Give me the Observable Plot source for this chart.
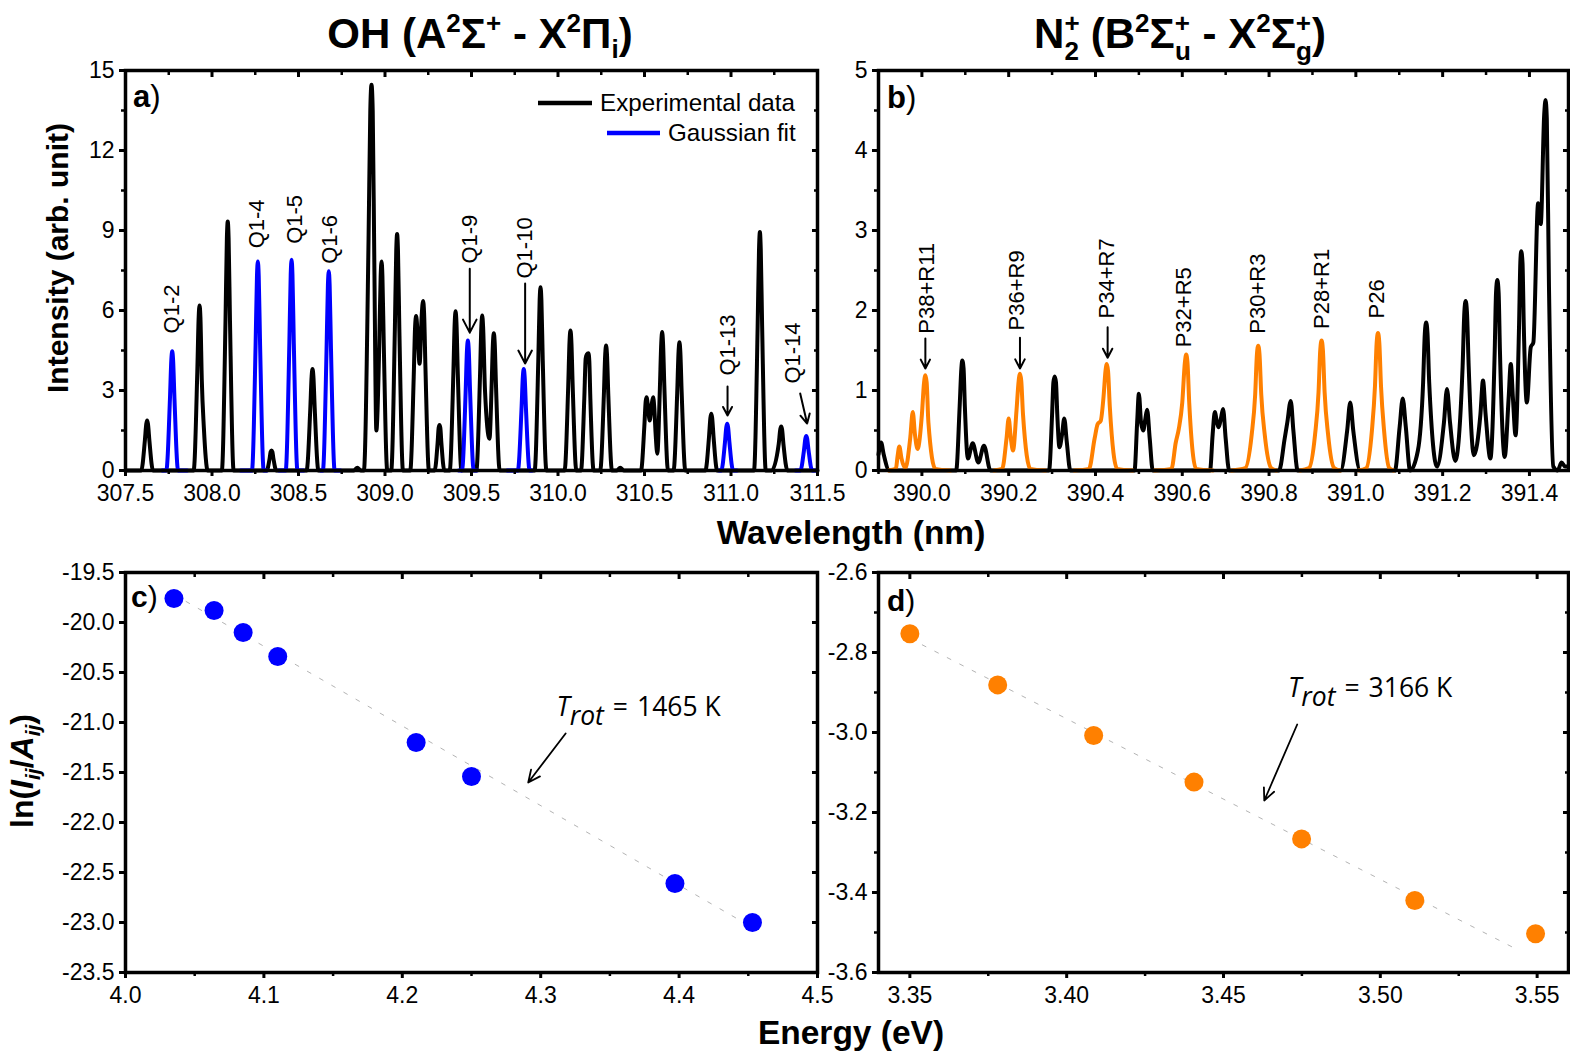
<!DOCTYPE html>
<html><head><meta charset="utf-8">
<script src="https://cdn.jsdelivr.net/npm/d3@7"></script>
<script src="https://cdn.jsdelivr.net/npm/@observablehq/plot@0.6"></script>
<style>
body{margin:0;background:#fff;}
#root{position:relative;width:1570px;height:1054px;overflow:hidden;background:#fff;}
.panel{position:absolute;}
.panel svg{overflow:visible;}
#overlay{position:absolute;left:0;top:0;pointer-events:none;}
</style></head><body><div id="root"></div>
<script>
// ---------- Panel a: OH spectrum (wavelength nm, intensity) ----------
const ohExp = [
[307.5,0],
[307.591,0],[307.612,1.13],[307.62,1.74],[307.625,1.875],[307.63,1.74],[307.638,1.13],[307.659,0],
[307.894,0],[307.915,3.7],[307.923,5.75],[307.928,6.19],[307.933,5.75],[307.941,3.4],[307.953,1.6],[307.975,0],
[308.057,0],[308.078,5.6],[308.086,8.7],[308.091,9.34],[308.096,8.7],[308.104,5.6],[308.125,0],
[308.316,0],[308.333,0.45],[308.339,0.7],[308.344,0.75],[308.349,0.7],[308.355,0.45],[308.372,0],
[308.547,0],[308.568,2.29],[308.576,3.54],[308.581,3.81],[308.586,3.54],[308.594,2.29],[308.615,0],
[308.82,0],[308.84,0.1],[308.86,0],
[308.878,0],[308.905,8.7],[308.915,13.5],[308.922,14.47],[308.929,13.5],[308.938,8.0],[308.95,1.5],[308.965,4.2],[308.975,7.3],[308.98,7.84],[308.985,7.3],[308.993,4.7],[309.013,0],
[309.036,0],[309.057,5.3],[309.065,8.25],[309.07,8.87],[309.075,8.25],[309.083,5.3],[309.104,0],
[309.146,0],[309.166,3.5],[309.174,5.4],[309.18,5.79],[309.188,5.2],[309.2,4.0],[309.212,5.8],[309.22,6.36],[309.226,5.9],[309.234,3.8],[309.254,0],
[309.287,0],[309.304,1.03],[309.31,1.59],[309.315,1.71],[309.32,1.59],[309.326,1.03],[309.343,0],
[309.374,0],[309.395,3.6],[309.403,5.55],[309.408,5.97],[309.413,5.55],[309.421,3.6],[309.442,0],
[309.528,0],[309.549,3.5],[309.557,5.4],[309.562,5.81],[309.567,5.4],[309.578,3.0],[309.604,1.19],[309.616,3.1],[309.624,4.8],[309.629,5.15],[309.634,4.8],[309.642,3.1],[309.663,0],
[309.865,0],[309.886,4.1],[309.894,6.4],[309.899,6.875],[309.904,6.4],[309.912,4.1],[309.933,0],
[310.038,0],[310.059,3.15],[310.067,4.88],[310.072,5.25],[310.077,4.88],[310.085,3.15],[310.106,0],
[310.133,0],[310.152,2.7],[310.16,4.2],[310.166,4.35],[310.176,4.4],[310.181,4.1],[310.187,2.7],[310.206,0],
[310.244,0],[310.265,2.8],[310.273,4.36],[310.278,4.69],[310.283,4.36],[310.291,2.8],[310.312,0],
[310.34,0],[310.36,0.1],[310.38,0],
[310.48,0],[310.499,1.65],[310.507,2.6],[310.512,2.75],[310.52,2.4],[310.53,1.875],[310.542,2.5],[310.55,2.75],[310.556,2.4],[310.565,1.3],[310.574,0.63],[310.589,3.1],[310.597,4.8],[310.602,5.19],[310.607,4.8],[310.615,3.1],[310.636,0],
[310.668,0],[310.689,2.9],[310.697,4.47],[310.702,4.81],[310.707,4.47],[310.715,2.9],[310.736,0],
[310.852,0],[310.873,1.27],[310.881,1.98],[310.886,2.125],[310.891,1.98],[310.899,1.27],[310.92,0],
[311.133,0],[311.154,5.4],[311.162,8.3],[311.167,8.94],[311.172,8.3],[311.18,5.4],[311.201,0],
[311.235,0],[311.276,1.0],[311.285,1.55],[311.29,1.65],[311.295,1.55],[311.303,1.0],[311.326,0],
[311.5,0]
];
// Gaussian fits: [fit, wavelength, intensity]
const ohFit = [
[1,307.712,0],[1,307.736,0],[1,307.757,2.7],[1,307.765,4.16],[1,307.77,4.47],[1,307.775,4.16],[1,307.783,2.7],[1,307.804,0],[1,307.857,0],
[2,308.165,0],[2,308.231,0],[2,308.252,4.7],[2,308.26,7.3],[2,308.265,7.84],[2,308.27,7.3],[2,308.278,4.7],[2,308.299,0],[2,308.319,0],
[3,308.386,0],[3,308.426,0],[3,308.447,4.74],[3,308.455,7.35],[3,308.46,7.9],[3,308.465,7.35],[3,308.473,4.74],[3,308.494,0],[3,308.531,0],
[4,308.627,0],[4,308.641,0],[4,308.662,4.48],[4,308.67,6.95],[4,308.675,7.47],[4,308.68,6.95],[4,308.688,4.48],[4,308.709,0],[4,308.743,0],
[5,309.425,0],[5,309.445,0],[5,309.466,2.92],[5,309.474,4.53],[5,309.479,4.875],[5,309.484,4.53],[5,309.492,2.92],[5,309.513,0],[5,309.533,0],
[6,309.706,0],[6,309.768,0],[6,309.789,2.29],[6,309.797,3.54],[6,309.802,3.81],[6,309.807,3.54],[6,309.815,2.29],[6,309.836,0],[6,309.851,0],
[7,310.93,0],[7,310.944,0],[7,310.965,1.05],[7,310.973,1.63],[7,310.978,1.75],[7,310.983,1.63],[7,310.991,1.05],[7,311.012,0],[7,311.035,0],
[8,311.373,0],[8,311.401,0],[8,311.422,0.77],[8,311.43,1.2],[8,311.435,1.29],[8,311.44,1.2],[8,311.448,0.77],[8,311.469,0],[8,311.498,0]
];
const ohLabels = [["Q1-2",307.77,5.14],["Q1-4",308.26,8.33],["Q1-5",308.48,8.5],["Q1-6",308.68,7.75],["Q1-9",309.49,7.76],["Q1-10",309.81,7.2],["Q1-13",310.98,3.56],["Q1-14",311.36,3.26]];
const ohArrows = [[309.49,7.57,309.49,5.17],[309.81,7.01,309.81,4.01],[310.98,3.15,310.98,2.06],[311.40,2.89,311.44,1.76]];

// ---------- Panel b: N2+ spectrum ----------
const n2Exp = [
[389.9,0.2],[389.906,0.35],[389.912,0.2],[389.925,0],
[390.079,0],[390.087,0.8],[390.091,1.28],[390.093,1.375],[390.096,1.28],[390.099,0.8],[390.106,0.15],[390.117,0.34],[390.13,0.1],[390.143,0.31],[390.158,0],
[390.293,0],[390.3,0.7],[390.303,1.1],[390.306,1.175],[390.309,1.1],[390.312,0.7],[390.317,0.29],[390.323,0.45],[390.328,0.65],[390.334,0.35],[390.342,0],
[390.49,0],[390.496,0.6],[390.5,0.96],[390.505,0.6],[390.51,0.5],[390.515,0.65],[390.519,0.76],[390.525,0.4],[390.532,0],
[390.664,0],[390.67,0.45],[390.675,0.73],[390.68,0.6],[390.684,0.54],[390.689,0.65],[390.694,0.77],[390.7,0.4],[390.708,0],
[390.823,0],[390.836,0.4],[390.842,0.6],[390.85,0.87],[390.856,0.5],[390.866,0],
[390.965,0],[390.98,0.5],[390.987,0.85],[390.994,0.5],[391.01,0],
[391.09,0],[391.101,0.55],[391.108,0.9],[391.115,0.55],[391.125,0],
[391.143,0.25],[391.155,1.1],[391.159,1.72],[391.162,1.85],[391.165,1.72],[391.169,1.1],[391.187,0.05],
[391.203,0.6],[391.21,1.02],[391.217,0.6],[391.229,0.12],
[391.246,1.3],[391.25,1.98],[391.253,2.12],[391.256,1.98],[391.26,1.3],[391.272,0.19],
[391.287,0.7],[391.293,1.125],[391.299,0.7],[391.31,0.15],
[391.32,1.5],[391.323,2.22],[391.326,2.38],[391.329,2.22],[391.332,1.5],[391.343,0.17],
[391.352,0.9],[391.357,1.33],[391.362,0.9],[391.368,0.44],
[391.376,1.8],[391.379,2.6],[391.381,2.74],[391.384,2.6],[391.387,1.8],[391.394,0.85],
[391.403,1.54],[391.409,1.6],[391.42,3.34],[391.426,3.08],[391.434,4.45],[391.437,4.63],[391.44,4.4],[391.445,2.3],[391.455,0.05],
[391.465,0],[391.474,0.1],[391.482,0.05],[391.49,0.05]
];
const n2Fit = [
[1,389.923,0],[1,389.94,0.02],[1,389.944,0.18],[1,389.948,0.3],[1,389.953,0.15],[1,389.962,0.03],[1,389.973,0.4],[1,389.979,0.73],[1,389.984,0.45],[1,389.99,0.27],[1,390.0,0.7],[1,390.005,1.1],[1,390.008,1.19],[1,390.011,1.1],[1,390.015,0.6],[1,390.031,0.02],[1,390.066,0],
[2,390.166,0],[2,390.185,0.02],[2,390.195,0.4],[2,390.2,0.65],[2,390.205,0.4],[2,390.21,0.25],[2,390.218,0.75],[2,390.223,1.12],[2,390.226,1.21],[2,390.229,1.12],[2,390.233,0.7],[2,390.25,0.02],[2,390.285,0],
[3,390.351,0],[3,390.385,0.02],[3,390.398,0.4],[3,390.405,0.58],[3,390.412,0.62],[3,390.419,0.95],[3,390.423,1.24],[3,390.426,1.33],[3,390.429,1.24],[3,390.433,0.8],[3,390.45,0.02],[3,390.486,0],
[4,390.536,0],[4,390.575,0.02],[4,390.585,0.35],[4,390.592,0.52],[4,390.6,0.85],[4,390.606,1.35],[4,390.609,1.45],[4,390.612,1.35],[4,390.616,0.85],[4,390.632,0.02],[4,390.671,0],
[5,390.713,0],[5,390.745,0.03],[5,390.76,0.45],[5,390.768,0.95],[5,390.772,1.45],[5,390.775,1.56],[5,390.778,1.45],[5,390.782,0.95],[5,390.79,0.45],[5,390.805,0.03],[5,390.817,0],
[6,390.871,0],[6,390.892,0.03],[6,390.906,0.45],[6,390.914,0.98],[6,390.918,1.51],[6,390.921,1.625],[6,390.924,1.51],[6,390.928,0.98],[6,390.936,0.45],[6,390.95,0.03],[6,390.964,0],
[7,391.006,0],[7,391.024,0.03],[7,391.037,0.5],[7,391.044,1.05],[7,391.048,1.6],[7,391.051,1.72],[7,391.054,1.6],[7,391.058,1.05],[7,391.065,0.5],[7,391.077,0.03],[7,391.087,0]
];
const n2Labels = [["P38+R11",390.012,1.71],["P36+R9",390.22,1.75],["P34+R7",390.427,1.9],["P32+R5",390.605,1.54],["P30+R3",390.774,1.71],["P28+R1",390.922,1.77],["P26",391.049,1.9]];
const n2Arrows = [[390.008,1.65,390.008,1.275],[390.226,1.66,390.226,1.275],[390.428,1.79,390.428,1.41]];

// ---------- Panel c: OH Boltzmann plot ----------
const ohEnergy = [4.035,4.064,4.085,4.11,4.21,4.25,4.397,4.453];
const ohLn = [-19.76,-19.88,-20.10,-20.34,-21.20,-21.54,-22.61,-23.00];
const ohFitLine = [[4.035,-19.72],[4.453,-23.05]];
const ohTrot = [[4.3114,-20.93,"1465 K"]];
const ohTrotArrow = [[4.318,-21.11,4.291,-21.60]];

// ---------- Panel d: N2+ Boltzmann plot ----------
const n2Energy = [3.350,3.378,3.4086,3.4406,3.4749,3.511,3.5495];
const n2Ln = [-2.753,-2.881,-3.0075,-3.124,-3.266,-3.42,-3.503];
const n2FitLine = [[3.35,-2.765],[3.543,-3.54]];
const n2Trot = [[3.4706,-2.912,"3166 K"]];
const n2TrotArrow = [[3.4735,-2.98,3.463,-3.17]];

// ---------- ticks ----------
const aXMajor = [307.5,308.0,308.5,309.0,309.5,310.0,310.5,311.0,311.5];
const aXMinor = [307.75,308.25,308.75,309.25,309.75,310.25,310.75,311.25];
const aYMajor = [0,3,6,9,12,15];
const aYMinor = [1.5,4.5,7.5,10.5,13.5];
const bXMajor = [390.0,390.2,390.4,390.6,390.8,391.0,391.2,391.4];
const bXMinor = [389.9,390.1,390.3,390.5,390.7,390.9,391.1,391.3];
const bYMajor = [0,1,2,3,4,5];
const bYMinor = [0.5,1.5,2.5,3.5,4.5];
const cXMajor = [4.0,4.1,4.2,4.3,4.4,4.5];
const cXMinor = [4.05,4.15,4.25,4.35,4.45];
const cYMajor = [-23.5,-23.0,-22.5,-22.0,-21.5,-21.0,-20.5,-20.0,-19.5];
const dXMajor = [3.35,3.40,3.45,3.50,3.55];
const dXMinor = [3.375,3.425,3.475,3.525];
const dYMajor = [-3.6,-3.4,-3.2,-3.0,-2.8,-2.6];
const dYMinor = [-3.5,-3.3,-3.1,-2.9,-2.7];

const BLUE = "#0000ff", ORANGE = "#ff8000";
const FONT = "'Liberation Sans', Arial, sans-serif";
const svgStyle = `font-family:${FONT};font-size:23px;background:transparent;overflow:visible;color:#000;`;
const blank = () => "";
const LW = 4;

function frameAxes(xMaj, xMin, yMaj, yMin, xFmt, yFmt) {
  const m = [
    Plot.axisX({anchor:"bottom", ticks:xMaj, tickSize:6, tickPadding:8, tickFormat:xFmt, label:null, strokeWidth:3}),
    Plot.axisX({anchor:"top", ticks:xMaj, tickSize:6, dy:6, tickFormat:blank, label:null, strokeWidth:3}),
    Plot.axisY({anchor:"left", ticks:yMaj, tickSize:6, tickPadding:5, tickFormat:yFmt, label:null, strokeWidth:3}),
    Plot.axisY({anchor:"right", ticks:yMaj, tickSize:6, dx:-6, tickFormat:blank, label:null, strokeWidth:3})
  ];
  if (xMin) {
    m.push(Plot.axisX({anchor:"bottom", ticks:xMin, tickSize:4, tickFormat:blank, label:null, strokeWidth:2.5}));
    m.push(Plot.axisX({anchor:"top", ticks:xMin, tickSize:4, dy:4, tickFormat:blank, label:null, strokeWidth:2.5}));
  }
  if (yMin) {
    m.push(Plot.axisY({anchor:"left", ticks:yMin, tickSize:4, tickFormat:blank, label:null, strokeWidth:2.5}));
    m.push(Plot.axisY({anchor:"right", ticks:yMin, tickSize:4, dx:-4, tickFormat:blank, label:null, strokeWidth:2.5}));
  }
  m.push(Plot.frame({stroke:"black", strokeWidth:3.5}));
  return m;
}
const f1 = d => d.toFixed(1), f2 = d => d.toFixed(2), f0 = d => String(d);

function place(el, left, top, w) {
  const div = document.createElement("div");
  div.className = "panel";
  div.style.left = left + "px"; div.style.top = top + "px"; div.style.width = w + "px";
  div.appendChild(el);
  document.getElementById("root").appendChild(div);
}
function richTrot(svg, value) {
  const t = Array.from(svg.querySelectorAll("text")).find(e => e.textContent.indexOf("Trot =") === 0);
  if (!t) return;
  t.textContent = "";
  const ns = "http://www.w3.org/2000/svg";
  const add = (s, attrs) => { const e = document.createElementNS(ns, "tspan"); for (const k in attrs) e.setAttribute(k, attrs[k]); e.textContent = s; t.appendChild(e); };
  add("T", {"font-style":"italic"});
  add("rot", {"font-style":"italic", dy:9});
  add("=", {dy:-9, dx:9});
  add(value, {dx:9});
}

// Panel a
const pa = Plot.plot({
  width:850, height:540, marginLeft:125, marginRight:33, marginTop:70, marginBottom:70,
  style: svgStyle,
  x:{domain:[307.5,311.5]}, y:{domain:[0,15]},
  marks:[
    Plot.line(ohExp, {x:d=>d[0], y:d=>d[1], stroke:"black", strokeWidth:LW, curve:"monotone-x"}),
    Plot.line(ohFit, {x:d=>d[1], y:d=>d[2], z:d=>d[0], stroke:BLUE, strokeWidth:LW, curve:"monotone-x"}),
    Plot.text(ohLabels, {x:d=>d[1], y:d=>d[2], text:d=>d[0], rotate:-90, textAnchor:"start", fontSize:22}),
    Plot.arrow(ohArrows, {x1:d=>d[0], y1:d=>d[1], x2:d=>d[2], y2:d=>d[3], stroke:"black", strokeWidth:2, headLength:11, headAngle:55}),
    ...frameAxes(aXMajor, aXMinor, aYMajor, aYMinor, f1, f0)
  ]
});
place(pa, 0, 0, 850);

// Panel b
const pb = Plot.plot({
  width:720, height:540, marginLeft:28, marginRight:2, marginTop:70, marginBottom:70,
  style: svgStyle,
  x:{domain:[389.9,391.49]}, y:{domain:[0,5]},
  marks:[
    Plot.line(n2Exp, {x:d=>d[0], y:d=>d[1], stroke:"black", strokeWidth:LW, curve:"monotone-x"}),
    Plot.line(n2Fit, {x:d=>d[1], y:d=>d[2], z:d=>d[0], stroke:ORANGE, strokeWidth:LW, curve:"monotone-x"}),
    Plot.text(n2Labels, {x:d=>d[1], y:d=>d[2], text:d=>d[0], rotate:-90, textAnchor:"start", fontSize:22}),
    Plot.arrow(n2Arrows, {x1:d=>d[0], y1:d=>d[1], x2:d=>d[2], y2:d=>d[3], stroke:"black", strokeWidth:2, headLength:11, headAngle:55}),
    ...frameAxes(bXMajor, bXMinor, bYMajor, bYMinor, f1, f0)
  ]
});
place(pb, 850, 0, 720);

// Panel c
const pc = Plot.plot({
  width:850, height:514, marginLeft:125, marginRight:33, marginTop:32, marginBottom:82,
  style: svgStyle,
  x:{domain:[4.0,4.5]}, y:{domain:[-23.5,-19.5]},
  marks:[
    Plot.line(ohFitLine, {x:d=>d[0], y:d=>d[1], stroke:"#b4b4b4", strokeWidth:1, strokeDasharray:"4,10"}),
    Plot.dot(ohEnergy.map((e,i)=>[e, ohLn[i]]), {x:d=>d[0], y:d=>d[1], r:9.5, fill:BLUE, stroke:"none"}),
    Plot.arrow(ohTrotArrow, {x1:d=>d[0], y1:d=>d[1], x2:d=>d[2], y2:d=>d[3], stroke:"black", strokeWidth:1.8, headLength:11, headAngle:50}),
    Plot.text(ohTrot, {x:d=>d[0], y:d=>d[1], text:d=>"Trot = " + d[2], textAnchor:"start", lineAnchor:"bottom", fontSize:26.5, fontFamily:"'Open Sans', sans-serif"}),
    ...frameAxes(cXMajor, cXMinor, cYMajor, null, f1, f1)
  ]
});
richTrot(pc, ohTrot[0][2]);
place(pc, 0, 540, 850);

// Panel d
const pd = Plot.plot({
  width:720, height:514, marginLeft:28, marginRight:2, marginTop:32, marginBottom:82,
  style: svgStyle,
  x:{domain:[3.34,3.56]}, y:{domain:[-3.6,-2.6]},
  marks:[
    Plot.line(n2FitLine, {x:d=>d[0], y:d=>d[1], stroke:"#b4b4b4", strokeWidth:1, strokeDasharray:"4,10"}),
    Plot.dot(n2Energy.map((e,i)=>[e, n2Ln[i]]), {x:d=>d[0], y:d=>d[1], r:9.5, fill:ORANGE, stroke:"none"}),
    Plot.arrow(n2TrotArrow, {x1:d=>d[0], y1:d=>d[1], x2:d=>d[2], y2:d=>d[3], stroke:"black", strokeWidth:1.8, headLength:11, headAngle:50}),
    Plot.text(n2Trot, {x:d=>d[0], y:d=>d[1], text:d=>"Trot = " + d[2], textAnchor:"start", lineAnchor:"bottom", fontSize:26.5, fontFamily:"'Open Sans', sans-serif"}),
    ...frameAxes(dXMajor, dXMinor, dYMajor, dYMinor, f2, f1)
  ]
});
richTrot(pd, n2Trot[0][2]);
place(pd, 850, 540, 720);

// ---------- overlay: titles, axis titles, legend, panel letters ----------
const ov = `
<svg id="overlay" width="1570" height="1054" xmlns="http://www.w3.org/2000/svg" style="font-family:${FONT}" fill="#000">
 <text x="480" y="48" text-anchor="middle" font-size="42" font-weight="bold">OH (A<tspan dy="-16" font-size="26">2</tspan><tspan dy="16">Σ</tspan><tspan dy="-16" font-size="26">+</tspan><tspan dy="16"> - X</tspan><tspan dy="-16" font-size="26">2</tspan><tspan dy="16">Π</tspan><tspan dy="10" font-size="26">i</tspan><tspan dy="-10">)</tspan></text>
 <text x="1180" y="48" text-anchor="middle" font-size="42" font-weight="bold">N<tspan dy="-16" font-size="26">+</tspan><tspan dx="-15" dy="28" font-size="26">2</tspan><tspan dy="-12"> (B</tspan><tspan dy="-16" font-size="26">2</tspan><tspan dy="16">Σ</tspan><tspan dy="-16" font-size="26">+</tspan><tspan dx="-15" dy="28" font-size="26">u</tspan><tspan dy="-12"> - X</tspan><tspan dy="-16" font-size="26">2</tspan><tspan dy="16">Σ</tspan><tspan dy="-16" font-size="26">+</tspan><tspan dx="-15" dy="28" font-size="26">g</tspan><tspan dy="-12">)</tspan></text>
 <text x="851" y="544" text-anchor="middle" font-size="33.5" font-weight="bold">Wavelength (nm)</text>
 <text x="851" y="1044" text-anchor="middle" font-size="33.5" font-weight="bold">Energy (eV)</text>
 <text transform="translate(68,258) rotate(-90)" text-anchor="middle" font-size="30" font-weight="bold">Intensity (arb. unit)</text>
 <text transform="translate(33,771) rotate(-90)" text-anchor="middle" font-size="32" font-weight="bold">ln(<tspan font-style="italic">I</tspan><tspan font-style="italic" font-size="21" dy="7">ij</tspan><tspan dy="-7">/</tspan><tspan font-style="italic">A</tspan><tspan font-style="italic" font-size="21" dy="7">ij</tspan><tspan dy="-7">)</tspan></text>
 <line x1="538" x2="592" y1="103" y2="103" stroke="#000" stroke-width="4.5"/>
 <text x="600" y="111" font-size="24.2">Experimental data</text>
 <line x1="607" x2="660" y1="133" y2="133" stroke="${BLUE}" stroke-width="4.5"/>
 <text x="668" y="141" font-size="24.2">Gaussian fit</text>
 <text x="133" y="107" font-size="31"><tspan font-weight="bold">a</tspan>)</text>
 <text x="887" y="108" font-size="31"><tspan font-weight="bold">b</tspan>)</text>
 <text x="131" y="607" font-size="30"><tspan font-weight="bold">c</tspan>)</text>
 <text x="887" y="611" font-size="30"><tspan font-weight="bold">d</tspan>)</text>
</svg>`;
document.getElementById("root").insertAdjacentHTML("beforeend", ov);
</script>
</body></html>
